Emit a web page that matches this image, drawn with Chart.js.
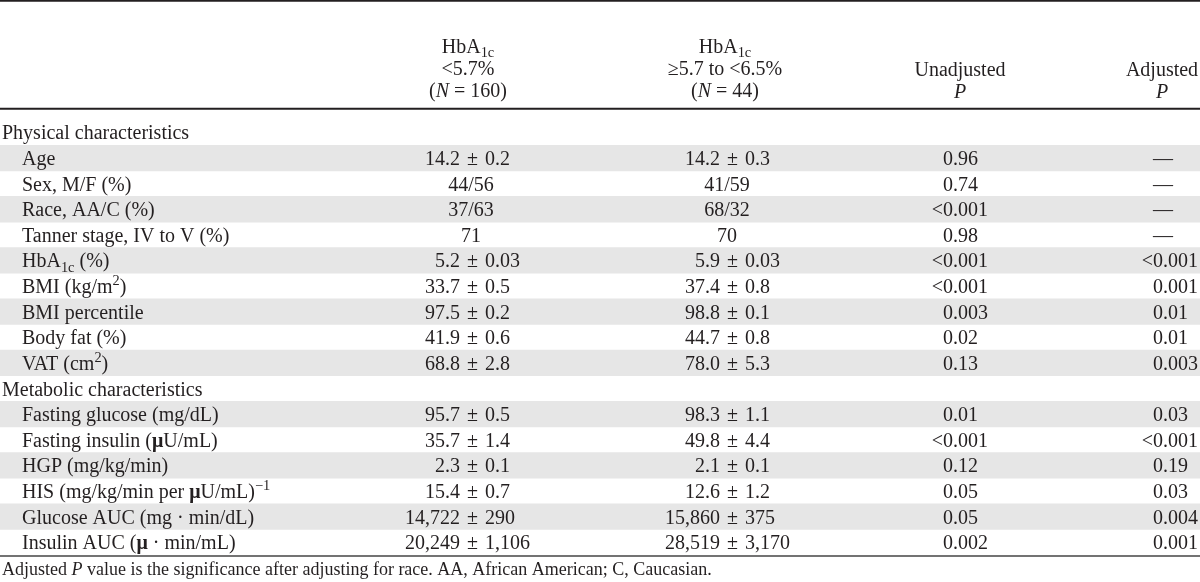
<!DOCTYPE html>
<html><head><meta charset="utf-8">
<script src="https://cdn.jsdelivr.net/npm/chart.js@4.4.1/dist/chart.umd.min.js"></script>
<style>html,body{margin:0;padding:0;background:#fff;overflow:hidden}#wrap{width:1200px;height:582px;position:relative}</style>
</head><body><div id="wrap"><canvas id="c" width="1200" height="582"></canvas></div>
<script>
// ---- data ----
const rowLabels = [
  "Physical characteristics", "Age", "Sex, M/F (%)", "Race, AA/C (%)", "Tanner stage, IV to V (%)",
  "HbA_{1c} (%)", "BMI (kg/m^{2})", "BMI percentile", "Body fat (%)", "VAT (cm^{2})",
  "Metabolic characteristics", "Fasting glucose (mg/dL)", "Fasting insulin (#μ#U/mL)", "HGP (mg/kg/min)",
  "HIS (mg/kg/min per #μ#U/mL)^{−1}", "Glucose AUC (mg · min/dL)", "Insulin AUC (#μ# · min/mL)"
];
const sectionRows = [0, 10];
const shadedRows = [1, 3, 5, 7, 9, 11, 13, 15];
const group1Values = ["", "14.2 ± 0.2", "44/56", "37/63", "71", "5.2 ± 0.03", "33.7 ± 0.5", "97.5 ± 0.2", "41.9 ± 0.6", "68.8 ± 2.8",
  "", "95.7 ± 0.5", "35.7 ± 1.4", "2.3 ± 0.1", "15.4 ± 0.7", "14,722 ± 290", "20,249 ± 1,106"];
const group2Values = ["", "14.2 ± 0.3", "41/59", "68/32", "70", "5.9 ± 0.03", "37.4 ± 0.8", "98.8 ± 0.1", "44.7 ± 0.8", "78.0 ± 5.3",
  "", "98.3 ± 1.1", "49.8 ± 4.4", "2.1 ± 0.1", "12.6 ± 1.2", "15,860 ± 375", "28,519 ± 3,170"];
const unadjustedP = ["", "0.96", "0.74", "<0.001", "0.98", "<0.001", "<0.001", "0.003", "0.02", "0.13",
  "", "0.01", "<0.001", "0.12", "0.05", "0.05", "0.002"];
const adjustedP = ["", "—", "—", "—", "—", "<0.001", "0.001", "0.01", "0.01", "0.003",
  "", "0.03", "<0.001", "0.19", "0.03", "0.004", "0.001"];
const columnHeaders = [
  ["HbA_{1c}", "<5.7%", "(*N* = 160)"],
  ["HbA_{1c}", "≥5.7 to <6.5%", "(*N* = 44)"],
  ["Unadjusted", "*P*"],
  ["Adjusted", "*P*"]
];
const footnote = "Adjusted *P* value is the significance after adjusting for race. AA, African American; C, Caucasian.";

// ---- layout / style ----
const FONT = "'Liberation Serif', 'DejaVu Serif', serif";
const FS = 20;
const FOOT_FS = 18;
const INK = "#231f20";
const layout = {
  labelX: 2, indentX: 22,
  groupCenters: [471, 727], pmLeft: [467, 727], pmGap: 7,
  pLeft: [943, 1153],
  headerCenters: [468, 725, 960, 1162],
  headerBaselines3: [53, 75, 97], headerBaselines2: [76, 98]
};

function parseRich(s) {
  const segs = []; let i = 0; let style = { it: false, b: false }; let buf = "";
  const push = (t, mode) => { if (t) segs.push({ t, mode: mode || "n", it: style.it, b: style.b }); };
  while (i < s.length) {
    const ch = s[i];
    if ((ch === "_" || ch === "^") && s[i + 1] === "{") {
      push(buf); buf = "";
      const end = s.indexOf("}", i);
      push(s.slice(i + 2, end), ch === "_" ? "sub" : "sup");
      i = end + 1; continue;
    }
    if (ch === "*") { push(buf); buf = ""; style = { ...style, it: !style.it }; i++; continue; }
    if (ch === "#") { push(buf); buf = ""; style = { ...style, b: !style.b }; i++; continue; }
    buf += ch; i++;
  }
  push(buf);
  return segs;
}
function segFont(seg, size) {
  const sz = seg.mode === "n" ? size : size * 0.72;
  return (seg.it ? "italic " : "") + (seg.b ? "bold " : "") + sz + "px " + FONT;
}
function richWidth(ctx, s, size) {
  let w = 0;
  for (const seg of parseRich(s)) { ctx.font = segFont(seg, size); w += ctx.measureText(seg.t).width; }
  return w;
}
function drawRich(ctx, s, x, y, align, size) {
  const segs = parseRich(s);
  const w = richWidth(ctx, s, size);
  let cx = align === "center" ? x - w / 2 : align === "right" ? x - w : x;
  ctx.textAlign = "left"; ctx.textBaseline = "alphabetic"; ctx.fillStyle = INK;
  for (const seg of segs) {
    ctx.font = segFont(seg, size);
    const dy = seg.mode === "sub" ? size * 0.22 : seg.mode === "sup" ? -size * 0.4 : 0;
    ctx.fillText(seg.t, cx, y + dy);
    cx += ctx.measureText(seg.t).width;
  }
}

const tablePlugin = {
  id: "tableText",
  afterDatasetsDraw(chart) {
    const ctx = chart.ctx; const ys = chart.scales.y; const area = chart.chartArea;
    ctx.save();
    // rules
    ctx.strokeStyle = INK;
    ctx.lineWidth = 1.6; ctx.beginPath(); ctx.moveTo(0, 0.9); ctx.lineTo(1200, 0.9); ctx.stroke();
    ctx.lineWidth = 2; ctx.beginPath(); ctx.moveTo(0, area.top - 10.8); ctx.lineTo(1200, area.top - 10.8); ctx.stroke();
    ctx.strokeStyle = "#444";
    ctx.lineWidth = 1.5; ctx.beginPath(); ctx.moveTo(0, area.bottom + 1); ctx.lineTo(1200, area.bottom + 1); ctx.stroke();
    // headers
    columnHeaders.forEach((lines, c) => {
      const bl = lines.length === 3 ? layout.headerBaselines3 : layout.headerBaselines2;
      lines.forEach((ln, k) => drawRich(ctx, ln, layout.headerCenters[c], bl[k], "center", FS));
    });
    // rows
    rowLabels.forEach((lab, i) => {
      const yb = ys.getPixelForValue(i) + 7;
      const isSec = sectionRows.includes(i);
      drawRich(ctx, lab, isSec ? layout.labelX : layout.indentX, yb, "left", FS);
      [group1Values, group2Values].forEach((arr, g) => {
        const v = arr[i]; if (!v) return;
        if (v.includes(" ± ")) {
          const parts = v.split(" ± ");
          const x0 = layout.pmLeft[g];
          drawRich(ctx, parts[0], x0 - layout.pmGap, yb, "right", FS);
          drawRich(ctx, "±", x0, yb, "left", FS);
          ctx.font = FS + "px " + FONT;
          const pw = ctx.measureText("±").width;
          drawRich(ctx, parts[1], x0 + pw + layout.pmGap, yb, "left", FS);
        } else {
          drawRich(ctx, v, layout.groupCenters[g], yb, "center", FS);
        }
      });
      [unadjustedP, adjustedP].forEach((arr, g) => {
        const v = arr[i]; if (!v) return;
        if (v[0] === "<") {
          ctx.font = FS + "px " + FONT;
          const lw = ctx.measureText("<").width;
          drawRich(ctx, v, layout.pLeft[g] - lw, yb, "left", FS);
        } else {
          drawRich(ctx, v, layout.pLeft[g], yb, "left", FS);
        }
      });
    });
    // footnote
    drawRich(ctx, footnote, layout.labelX, area.bottom + 20, "left", FOOT_FS);
    ctx.restore();
  }
};

new Chart(document.getElementById("c"), {
  type: "bar",
  data: {
    labels: rowLabels,
    datasets: [{
      data: rowLabels.map((_, i) => shadedRows.includes(i) ? [0, 1] : null),
      backgroundColor: "#e6e6e6", borderWidth: 0,
      barPercentage: 1, categoryPercentage: 1
    }]
  },
  options: {
    indexAxis: "y", responsive: false, animation: false,
    layout: { padding: { top: 119.6, bottom: 27, left: 0, right: 0 } },
    scales: {
      x: { type: "linear", min: 0, max: 1, display: false },
      y: { type: "category", display: false, offset: true }
    },
    plugins: { legend: { display: false }, tooltip: { enabled: false } }
  },
  plugins: [tablePlugin]
});
</script>
</body></html>
